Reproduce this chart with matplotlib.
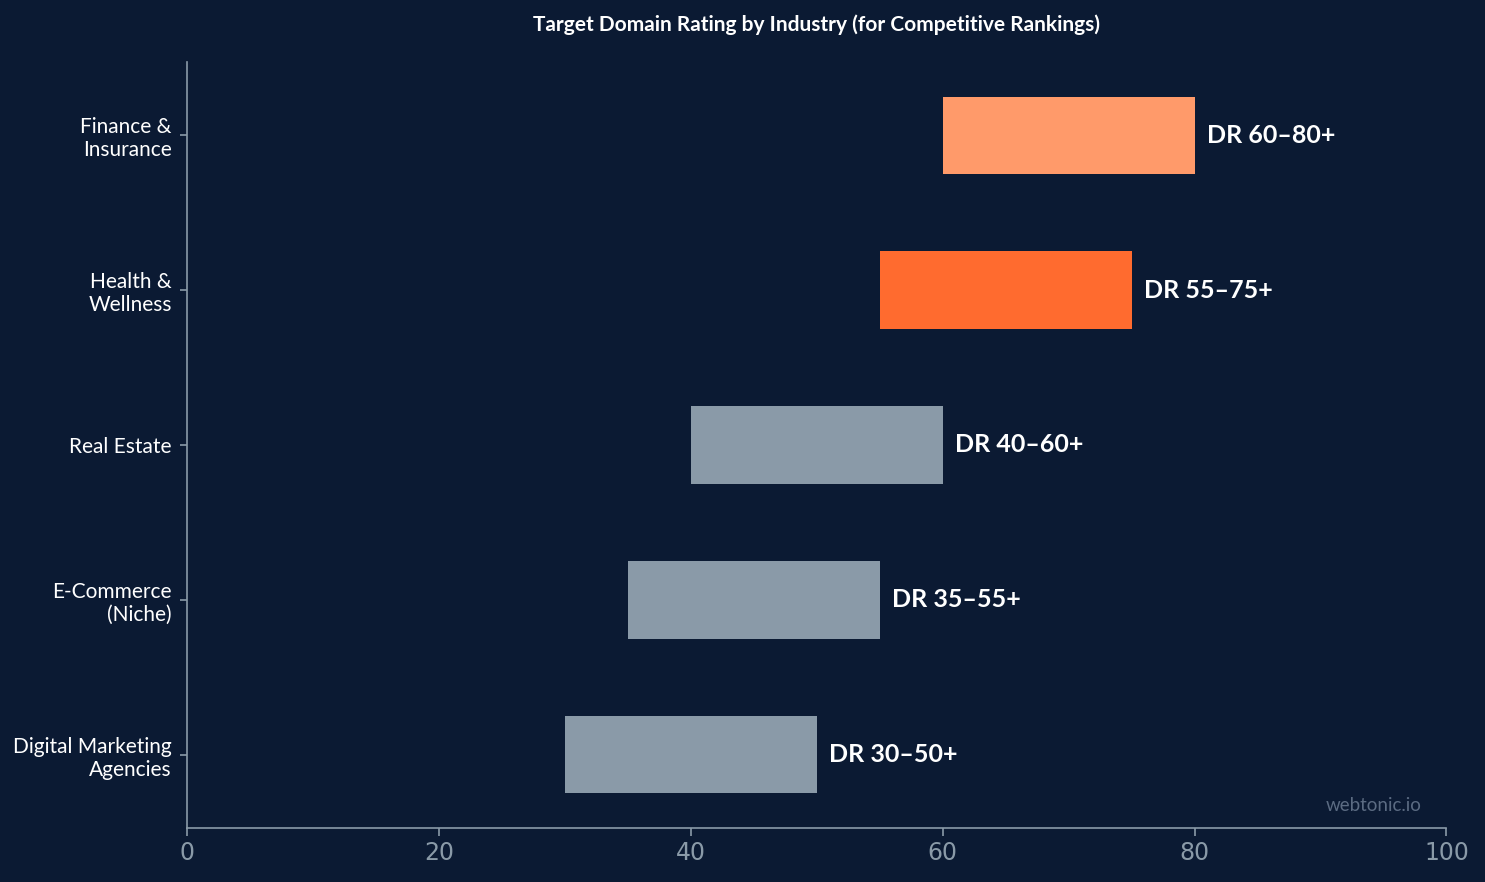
import matplotlib.pyplot as plt

industries = ["Digital Marketing\nAgencies", "E-Commerce\n(Niche)", "Real Estate",
              "Health &\nWellness", "Finance &\nInsurance"]
dr_low = [30, 35, 40, 55, 60]
dr_high = [50, 55, 60, 75, 80]
labels = ["DR 30–50+", "DR 35–55+", "DR 40–60+", "DR 55–75+", "DR 60–80+"]
colors = ["#8a9aa8", "#8a9aa8", "#8a9aa8", "#ff6b2f", "#ff9a6a"]

bg = "#0b1a33"
axis_col = "#8a9aa8"

fig, ax = plt.subplots(figsize=(14.85, 8.82), dpi=100)
fig.patch.set_facecolor(bg)
ax.set_facecolor(bg)
fig.subplots_adjust(left=0.126, right=0.974, top=0.93, bottom=0.061)

widths = [h - l for l, h in zip(dr_low, dr_high)]
ax.barh(range(len(industries)), widths, left=dr_low, height=0.5, color=colors)

for i, (h, lab) in enumerate(zip(dr_high, labels)):
    ax.text(h + 1, i, lab, va="center", ha="left", color="white",
            fontsize=18, fontweight="bold", family="Lato")

ax.set_yticks(range(len(industries)))
ax.set_yticklabels(industries, family="Lato", fontsize=15, color="white")
ax.set_xlim(0, 100)
ax.set_xticks([0, 20, 40, 60, 80, 100])
ax.tick_params(axis="x", colors=axis_col, labelsize=17, length=6, width=1.2)
ax.tick_params(axis="y", colors=axis_col, length=5, width=1.2, pad=6)
for lbl in ax.get_yticklabels():
    lbl.set_color("white")

for s in ["top", "right"]:
    ax.spines[s].set_visible(False)
for s in ["left", "bottom"]:
    ax.spines[s].set_color(axis_col)
    ax.spines[s].set_linewidth(1.2)

ax.set_title("Target Domain Rating by Industry (for Competitive Rankings)",
             family="Lato", fontweight="bold", fontsize=15, color="white", pad=22)

ax.text(0.98, 0.018, "webtonic.io", transform=ax.transAxes, ha="right", va="bottom",
        family="Lato", fontsize=13.5, color="#5b6b82")

fig.savefig("out.png", facecolor=bg)
